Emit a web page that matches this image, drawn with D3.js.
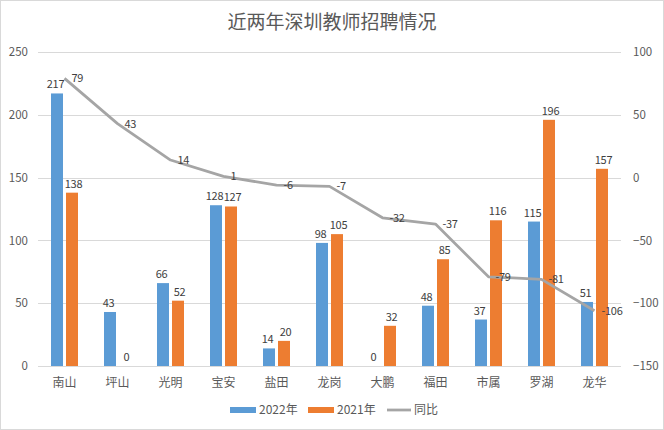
<!DOCTYPE html>
<html><head><meta charset="utf-8">
<script src="https://cdn.jsdelivr.net/npm/d3@7/dist/d3.min.js"></script>
<style>
body{margin:0;background:#fff;}
text{font-family:"Noto Sans CJK SC","Noto Sans",sans-serif;}
</style></head>
<body><svg id="c" width="664" height="430"></svg>
<script>
const categories = ["南山","坪山","光明","宝安","盐田","龙岗","大鹏","福田","市属","罗湖","龙华"];
const values2022 = [217,43,66,128,14,98,0,48,37,115,51];
const values2021 = [138,0,52,127,20,105,32,85,116,196,157];
const yoy = [79,43,14,1,-6,-7,-32,-37,-79,-81,-106];
const leftTicks = [0,50,100,150,200,250];
const rightTicks = [-150,-100,-50,0,50,100];
const seriesNames = ["2022年","2021年","同比"];
const title = "近两年深圳教师招聘情况";

const svg = d3.select("#c");
const W=664,H=430;
const m={left:38,right:621,top:52,bottom:366};
const textCol="#595959";
const blue="#5b9bd5", orange="#ed7d31", gray="#a5a5a5";
const numFont='"Noto Sans CJK SC",sans-serif';

svg.append("rect").attr("x",0.5).attr("y",0.5).attr("width",W-1).attr("height",H-1)
  .attr("fill","#fff").attr("stroke","#d9d9d9");

svg.append("text").attr("x",332).attr("y",29).attr("text-anchor","middle")
  .attr("font-size",19).attr("fill",textCol).text(title);

const x = d3.scaleBand().domain(categories).range([m.left,m.right]).padding(0);
const yL = d3.scaleLinear().domain([0,250]).range([m.bottom,m.top]);
const yR = d3.scaleLinear().domain([-150,100]).range([m.bottom,m.top]);

// gridlines
svg.append("g").selectAll("line").data(leftTicks).join("line")
  .attr("x1",m.left).attr("x2",m.right)
  .attr("y1",d=>Math.round(yL(d))+0.5).attr("y2",d=>Math.round(yL(d))+0.5)
  .attr("stroke","#d9d9d9").attr("stroke-width",1);

// left axis
const axL = d3.axisLeft(yL).tickValues(leftTicks).tickSize(0).tickPadding(10);
const gL = svg.append("g").attr("transform",`translate(${m.left},0)`).call(axL);
gL.select(".domain").remove();
gL.selectAll("text").attr("font-size",11.5).attr("fill",textCol).style("font-family",numFont);

const axR = d3.axisRight(yR).tickValues(rightTicks).tickSize(0).tickPadding(12);
const gR = svg.append("g").attr("transform",`translate(${m.right},0)`).call(axR);
gR.select(".domain").remove();
gR.selectAll("text").attr("font-size",11.5).attr("fill",textCol).style("font-family",numFont);

// category axis
const axB = d3.axisBottom(x).tickSize(0).tickPadding(12);
const gB = svg.append("g").attr("transform",`translate(0,${m.bottom})`).call(axB);
gB.select(".domain").remove();
gB.selectAll("text").attr("font-size",12).attr("fill",textCol).style("font-family",'"Noto Sans CJK SC",sans-serif');

const bw=12, gap=3;
const cx = c => x(c)+x.bandwidth()/2;

const bars = svg.append("g");
bars.selectAll(".b22").data(categories).join("rect")
  .attr("x",c=>cx(c)-gap/2-bw).attr("width",bw)
  .attr("y",(c,i)=>yL(values2022[i])).attr("height",(c,i)=>yL(0)-yL(values2022[i]))
  .attr("fill",blue);
bars.selectAll(".b21").data(categories).join("rect")
  .attr("x",c=>cx(c)+gap/2).attr("width",bw)
  .attr("y",(c,i)=>yL(values2021[i])).attr("height",(c,i)=>yL(0)-yL(values2021[i]))
  .attr("fill",orange);

// line
const line = d3.line().x((d,i)=>cx(categories[i])).y(d=>yR(d));
svg.append("path").datum(yoy).attr("d",line).attr("fill","none")
  .attr("stroke",gray).attr("stroke-width",2.75).attr("stroke-linejoin","round");

const lab = svg.append("g").attr("font-size",11).attr("letter-spacing",-0.3).attr("fill","#404040").style("font-family",numFont);
lab.selectAll(".l22").data(categories).join("text")
  .attr("x",c=>cx(c)-gap/2-bw/2-1.5).attr("y",(c,i)=>yL(values2022[i])-5)
  .attr("text-anchor","middle").text((c,i)=>values2022[i]);
lab.selectAll(".l21").data(categories).join("text")
  .attr("x",c=>cx(c)+gap/2+bw/2+1.5).attr("y",(c,i)=>yL(values2021[i])-5)
  .attr("text-anchor","middle").text((c,i)=>values2021[i]);
lab.selectAll(".ly").data(categories).join("text")
  .attr("x",c=>cx(c)+7).attr("y",(c,i)=>yR(yoy[i])+4)
  .attr("text-anchor","start").text((c,i)=>yoy[i]);

// legend
const lg = svg.append("g").attr("font-size",12).attr("fill",textCol);
lg.append("rect").attr("x",230).attr("y",407).attr("width",26).attr("height",6).attr("fill",blue);
lg.append("text").attr("x",259).attr("y",414).text(seriesNames[0]);
lg.append("rect").attr("x",308).attr("y",407).attr("width",26).attr("height",6).attr("fill",orange);
lg.append("text").attr("x",337).attr("y",414).text(seriesNames[1]);
lg.append("line").attr("x1",387).attr("x2",411).attr("y1",410).attr("y2",410).attr("stroke",gray).attr("stroke-width",2.75);
lg.append("text").attr("x",414).attr("y",414).text(seriesNames[2]);
</script></body></html>
